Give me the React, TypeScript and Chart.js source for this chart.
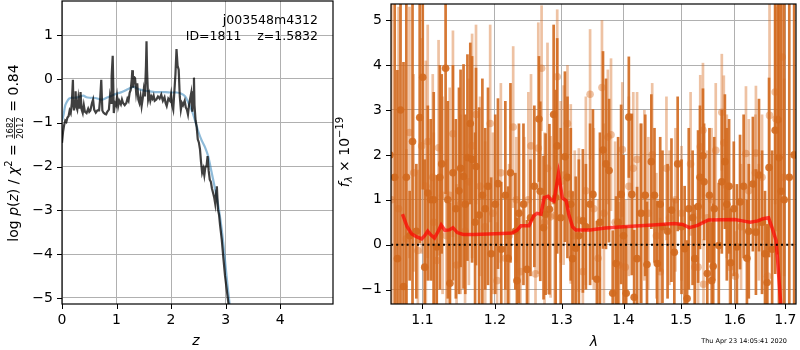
import React, { useEffect, useRef } from 'react';
import { Chart, registerables } from 'chart.js';
Chart.register(...registerables);

const FONT = "'DejaVu Sans', sans-serif";
const GRID = '#b0b0b0';
const fmt = (v: number, d = 0) => v.toFixed(d).replace('-', '\u2212');

// ---------------- Left panel: log p(z) / chi2 ----------------
const zTicks = [0, 1, 2, 3, 4];
const logpTicks = [-5, -4, -3, -2, -1, 0, 1];

const chiZ = [0.00, 0.02, 0.04, 0.06, 0.08, 0.10, 0.12, 0.14, 0.16, 0.18, 0.20, 0.21, 0.22, 0.24, 0.25, 0.26, 0.28, 0.30, 0.32, 0.34, 0.36, 0.38, 0.40, 0.42, 0.45, 0.48, 0.50, 0.52, 0.55, 0.57, 0.59, 0.62, 0.65, 0.68, 0.70, 0.72, 0.74, 0.76, 0.79, 0.81, 0.83, 0.86, 0.88, 0.90, 0.91, 0.93, 0.95, 0.97, 0.99, 1.01, 1.03, 1.05, 1.08, 1.10, 1.12, 1.15, 1.18, 1.20, 1.22, 1.24, 1.26, 1.28, 1.29, 1.30, 1.32, 1.34, 1.36, 1.38, 1.40, 1.42, 1.44, 1.46, 1.48, 1.50, 1.52, 1.54, 1.55, 1.56, 1.58, 1.60, 1.62, 1.64, 1.66, 1.68, 1.70, 1.73, 1.76, 1.79, 1.82, 1.85, 1.88, 1.90, 1.92, 1.95, 1.98, 2.00, 2.02, 2.04, 2.06, 2.08, 2.10, 2.12, 2.14, 2.16, 2.18, 2.20, 2.22, 2.25, 2.27, 2.29, 2.31, 2.33, 2.35, 2.37, 2.39, 2.41, 2.42, 2.43, 2.45, 2.47, 2.49, 2.51, 2.53, 2.55, 2.57, 2.59, 2.61, 2.63, 2.65, 2.67, 2.69, 2.71, 2.73, 2.75, 2.77, 2.79, 2.81, 2.83, 2.84, 2.86, 2.88, 2.90, 2.93, 2.96, 2.99, 3.02, 3.05, 3.08];
const chiVal = [-1.46, -1.2, -1.05, -0.95, -0.98, -0.88, -0.85, -0.72, -0.78, -0.55, -0.02, -0.6, -0.72, -0.5, -0.28, -0.62, -0.7, -0.45, -0.68, -0.3, -0.7, -0.78, -0.6, -0.75, -0.78, -0.68, -0.75, -0.72, -0.55, -0.47, -0.7, -0.77, -0.72, -0.72, -0.45, -0.02, -0.72, -0.77, -0.8, -0.81, -0.75, -0.7, -0.4, -0.55, 0.06, 0.53, -0.78, -0.55, -0.6, -0.4, -0.62, -0.5, -0.58, -0.47, -0.55, -0.6, -0.55, -0.45, -0.5, -0.32, -0.25, 0.0, 0.2, -0.2, 0.05, 0.02, -0.3, -0.1, -0.47, -0.55, -0.4, -0.62, -0.45, -0.24, -0.4, 0.3, 0.86, 0.2, -0.47, -0.35, -0.5, -0.4, -0.45, -0.38, -0.5, -0.47, -0.4, -0.45, -0.36, -0.5, -0.42, -0.55, -0.62, -0.45, -0.5, -0.35, -0.6, -0.7, -0.3, 0.1, 0.68, 0.3, 0.21, -0.4, -0.7, -0.55, -0.6, -0.5, -0.65, -0.7, -0.81, -0.6, -0.45, -0.32, -0.75, -0.3, 0.03, -0.6, -0.95, -1.1, -1.38, -1.45, -1.6, -1.9, -2.14, -2.05, -2.2, -2.0, -2.0, -1.76, -2.1, -2.3, -2.35, -2.5, -2.6, -2.7, -2.85, -2.55, -2.45, -2.98, -3.1, -3.35, -3.67, -4.1, -4.5, -4.8, -5.1, -5.4];

const pzZ = [0.00, 0.03, 0.06, 0.09, 0.13, 0.17, 0.22, 0.28, 0.34, 0.39, 0.45, 0.51, 0.57, 0.63, 0.70, 0.75, 0.80, 0.88, 0.95, 1.02, 1.10, 1.18, 1.25, 1.32, 1.38, 1.45, 1.52, 1.60, 1.70, 1.80, 1.90, 2.00, 2.10, 2.18, 2.26, 2.32, 2.38, 2.44, 2.50, 2.56, 2.62, 2.68, 2.73, 2.78, 2.83, 2.88, 2.93, 2.97, 3.01, 3.05, 3.09];
const pzVal = [-0.95, -0.81, -0.6, -0.52, -0.45, -0.43, -0.43, -0.42, -0.4, -0.38, -0.42, -0.43, -0.43, -0.44, -0.47, -0.47, -0.44, -0.4, -0.36, -0.33, -0.3, -0.25, -0.21, -0.18, -0.22, -0.25, -0.27, -0.28, -0.3, -0.3, -0.3, -0.31, -0.31, -0.33, -0.4, -0.55, -0.72, -0.95, -1.2, -1.4, -1.55, -1.76, -2.05, -2.35, -2.65, -3.0, -3.45, -3.9, -4.4, -4.88, -5.3];

// ---------------- Right panel: spectrum ----------------
const lamTicks = [1.1, 1.2, 1.3, 1.4, 1.5, 1.6, 1.7];
const fluxTicks = [-1, 0, 1, 2, 3, 4, 5];

const darkWave = [1.058, 1.064, 1.0675, 1.0715, 1.0753, 1.079, 1.0833, 1.087, 1.092, 1.0964, 1.1004, 1.103, 1.1071, 1.111, 1.115, 1.119, 1.1232, 1.1257, 1.131, 1.134, 1.1369, 1.141, 1.145, 1.1493, 1.1515, 1.1556, 1.158, 1.161, 1.165, 1.1675, 1.1717, 1.173, 1.1774, 1.182, 1.186, 1.190, 1.1945, 1.2004, 1.2043, 1.209, 1.215, 1.219, 1.2225, 1.2297, 1.232, 1.235, 1.2417, 1.247, 1.2522, 1.258, 1.265, 1.267, 1.272, 1.2751, 1.281, 1.2875, 1.2906, 1.293, 1.2984, 1.305, 1.309, 1.3142, 1.317, 1.3221, 1.327, 1.3334, 1.3382, 1.345, 1.3496, 1.356, 1.361, 1.366, 1.3709, 1.376, 1.382, 1.3876, 1.391, 1.396, 1.400, 1.4045, 1.409, 1.414, 1.418, 1.423, 1.4301, 1.437, 1.440, 1.4475, 1.453, 1.458, 1.463, 1.467, 1.476, 1.4829, 1.488, 1.494, 1.5009, 1.5065, 1.511, 1.514, 1.521, 1.525, 1.531, 1.5345, 1.540, 1.542, 1.548, 1.552, 1.5563, 1.559, 1.561, 1.5695, 1.5752, 1.581, 1.5847, 1.589, 1.592, 1.598, 1.604, 1.610, 1.617, 1.6234, 1.627, 1.635, 1.641, 1.647, 1.6531, 1.659, 1.6631, 1.667, 1.6732, 1.6793, 1.685, 1.687, 1.6915, 1.6976, 1.708, 1.718];
const darkFlux = [2.0, 1.5, -0.31, 3.0, -0.93, 1.5, 0.2, 2.3, 0.3, 2.83, 3.73, -0.5, 1.15, 1.0, 1.0, -0.05, 1.5, 1.8, 3.93, 1.0, -0.86, 1.6, 0.8, 1.2, 1.7, 1.52, 0.9, 1.94, 2.7, 1.9, 0.5, 1.74, 0.66, 1.1, 0.8, 1.3, -0.2, 0.9, 1.36, -0.1, 1.1, -0.3, 1.6, 0.3, -0.8, 0.7, 0.9, -0.55, 0.6, 1.3, 2.8, 1.19, 0.38, 0.68, 0.79, 2.9, 1.05, 2.2, 0.6, 1.96, 1.5, 0.9, -0.31, -0.08, 0.2, 0.53, 0.4, 0.9, 1.12, -0.77, 0.5, 2.11, 1.8, 1.65, -1.08, -0.42, 0.5, 1.12, 0.2, -1.08, 2.84, 1.12, -1.17, -0.31, 0.7, 1.1, -0.44, 1.85, 1.1, -0.42, 0.9, 0.4, 0.3, 0.77, -0.17, 1.8, 0.4, -0.09, -1.2, 0.8, 0.6, -0.31, 0.85, 1.5, 1.98, 1.4, -0.64, 1.1, -0.8, -0.48, 0.8, -0.02, 1.4, 1.85, 0.9, 1.3, -0.4, 0.8, -0.05, 0.95, 1.3, -0.3, 0.3, 1.35, 0.28, 1.55, 0.5, -0.2, -0.84, 1.72, -0.1, 2.55, 2.78, 1.94, 1.19, 1.0, 1.5, 2.0];
const darkErr = [5.0, 4.5, 4.2, 4.5, 5.0, 4.0, 1.0, 4.0, 1.5, 2.8, 2.5, 2.4, 1.95, 1.8, 2.4, 1.6, 2.5, 2.0, 2.8, 2.2, 1.8, 2.4, 2.0, 2.3, 2.2, 2.5, 2.0, 2.3, 1.8, 2.3, 2.0, 2.2, 2.4, 2.6, 1.8, 2.2, 1.7, 2.0, 1.9, 1.5, 2.1, 1.6, 2.0, 1.3, 1.4, 2.0, 1.8, 1.1, 1.3, 1.8, 1.4, 2.0, 1.6, 1.8, 1.9, 2.0, 2.4, 2.4, 2.0, 1.9, 1.8, 1.7, 1.5, 1.6, 1.7, 1.6, 1.4, 1.8, 1.9, 1.3, 2.0, 2.2, 1.9, 1.6, 1.4, 1.5, 1.9, 2.0, 1.8, 1.5, 1.35, 1.8, 1.5, 1.6, 2.0, 1.8, 1.4, 1.5, 1.5, 1.4, 1.5, 1.7, 1.5, 1.6, 1.2, 1.5, 1.5, 1.4, 1.3, 1.8, 1.5, 1.2, 1.7, 1.6, 1.5, 1.3, 1.2, 1.5, 1.3, 1.4, 1.6, 1.4, 1.6, 1.5, 1.7, 1.5, 1.2, 1.5, 1.4, 1.5, 1.6, 1.3, 1.5, 1.5, 1.4, 1.7, 1.6, 1.4, 1.3, 2.0, 2.2, 3.2, 3.0, 3.8, 4.5, 5.0, 6.0, 6.0];

const lightWave = [1.0599, 1.069, 1.079, 1.083, 1.0885, 1.094, 1.099, 1.1045, 1.107, 1.1137, 1.115, 1.119, 1.1215, 1.1269, 1.132, 1.1366, 1.141, 1.146, 1.1515, 1.1577, 1.163, 1.1675, 1.173, 1.1787, 1.186, 1.1931, 1.197, 1.203, 1.2085, 1.215, 1.2205, 1.2265, 1.231, 1.2372, 1.243, 1.249, 1.253, 1.2598, 1.264, 1.269, 1.2735, 1.278, 1.2828, 1.289, 1.293, 1.2984, 1.303, 1.309, 1.3142, 1.3205, 1.327, 1.3334, 1.3382, 1.345, 1.351, 1.358, 1.3643, 1.3675, 1.374, 1.3792, 1.386, 1.3925, 1.398, 1.403, 1.409, 1.4165, 1.423, 1.4285, 1.4355, 1.4423, 1.449, 1.4563, 1.463, 1.474, 1.4795, 1.490, 1.5009, 1.5173, 1.525, 1.531, 1.535, 1.540, 1.541, 1.548, 1.556, 1.5638, 1.5752, 1.579, 1.5847, 1.5905, 1.601, 1.612, 1.6215, 1.627, 1.64, 1.641, 1.6467, 1.6531, 1.6641, 1.668, 1.6793, 1.681, 1.6935, 1.6976];
const lightFlux = [1.0, 0.8, 0.13, 2.5, 1.6, -0.13, 2.2, 1.3, 2.3, 1.5, 0.5, -0.35, 2.16, 1.1, 0.2, 1.1, 2.47, -0.45, 0.9, 0.3, 1.4, 2.2, 2.9, 1.3, 0.4, 2.7, 0.7, -0.8, 1.6, -0.3, 0.2, 2.62, 1.0, -0.6, 0.9, 1.0, 2.2, -0.65, 2.15, 3.93, 0.5, 1.7, 0.62, 0.65, 3.74, 1.4, 1.55, 2.7, 1.13, 0.2, 0.55, -0.6, 1.2, 3.35, 0.8, -0.3, 3.5, 0.7, 2.4, 2.45, 0.5, -0.45, 2.12, -0.5, 1.3, 1.7, 1.9, 0.7, 1.1, 0.7, 2.0, 0.2, -0.6, 1.7, 0.6, 1.0, 0.7, 1.8, -0.5, -0.5, 2.18, 2.55, -0.88, 0.6, 1.0, 2.1, 2.95, 2.27, 1.3, -0.5, -0.7, 0.4, 2.03, 1.2, 1.6, 2.04, 0.5, 1.5, -0.7, 2.88, 3.4, 2.8, 4.18, 1.5];
const lightErr = [5.0, 4.5, 2.0, 2.8, 2.2, 1.8, 2.4, 2.8, 2.6, 2.3, 2.0, 1.8, 2.4, 2.2, 1.7, 2.4, 2.3, 1.8, 2.0, 1.6, 2.3, 2.5, 2.0, 2.0, 1.9, 2.2, 1.8, 1.3, 2.0, 1.4, 1.6, 1.8, 1.4, 1.4, 1.5, 2.4, 1.6, 1.3, 2.8, 1.4, 2.0, 2.8, 1.8, 2.3, 1.5, 1.8, 2.0, 1.3, 2.0, 1.9, 1.6, 1.6, 2.1, 1.45, 1.8, 1.3, 1.5, 2.0, 1.5, 1.7, 1.8, 1.4, 1.5, 1.5, 2.0, 1.7, 1.5, 2.0, 1.9, 1.7, 1.6, 1.4, 1.2, 1.6, 1.5, 1.6, 1.5, 1.6, 1.2, 1.3, 1.6, 1.5, 1.0, 1.5, 1.6, 1.5, 1.3, 1.5, 1.6, 1.1, 1.0, 1.4, 1.5, 1.6, 1.3, 1.5, 1.3, 1.4, 1.1, 2.5, 2.5, 2.5, 3.0, 2.2];

const modelWave = [1.074, 1.080, 1.086, 1.092, 1.099, 1.103, 1.107, 1.111, 1.116, 1.121, 1.125, 1.130, 1.136, 1.141, 1.147, 1.155, 1.17, 1.19, 1.21, 1.225, 1.232, 1.238, 1.25, 1.257, 1.262, 1.268, 1.273, 1.279, 1.284, 1.288, 1.295, 1.301, 1.307, 1.311, 1.317, 1.322, 1.345, 1.37, 1.4, 1.45, 1.488, 1.503, 1.515, 1.53, 1.55, 1.6, 1.62, 1.63, 1.645, 1.655, 1.666, 1.673, 1.677, 1.681, 1.684, 1.69, 1.695];
const modelFlux = [0.68, 0.40, 0.24, 0.18, 0.13, 0.2, 0.3, 0.22, 0.15, 0.3, 0.44, 0.32, 0.33, 0.38, 0.27, 0.23, 0.23, 0.24, 0.25, 0.26, 0.32, 0.42, 0.42, 0.64, 0.7, 0.68, 1.05, 1.08, 1.0, 0.97, 1.59, 1.04, 0.98, 0.68, 0.4, 0.33, 0.33, 0.37, 0.4, 0.44, 0.47, 0.45, 0.38, 0.43, 0.55, 0.56, 0.52, 0.5, 0.53, 0.58, 0.6, 0.38, 0.24, 0.1, -0.3, -1.24, -2.5];

const objName = 'j003548m4312';
const objInfo = 'ID=1811    z=1.5832';
const stamp = 'Thu Apr 23 14:05:41 2020';

// ---------------- helpers ----------------
type Piece = { t: string; f: string; dy?: number } | { num: string; den: string; f: string };

function drawRich(ctx: CanvasRenderingContext2D, pieces: Piece[], cx: number, cy: number, angle: number) {
  ctx.save();
  ctx.translate(cx, cy);
  ctx.rotate(angle);
  ctx.fillStyle = '#000';
  ctx.textBaseline = 'alphabetic';
  let total = 0;
  const widths = pieces.map((p) => {
    ctx.font = p.f;
    const w = 'num' in p
      ? Math.max(ctx.measureText(p.num).width, ctx.measureText(p.den).width) + 2
      : ctx.measureText(p.t).width;
    total += w;
    return w;
  });
  let x = -total / 2;
  pieces.forEach((p, i) => {
    ctx.font = p.f;
    const w = widths[i];
    if ('num' in p) {
      ctx.textAlign = 'center';
      ctx.fillText(p.num, x + w / 2, -5);
      ctx.fillText(p.den, x + w / 2, 5);
      ctx.fillRect(x + 1, -4, w - 2, 0.8);
      ctx.textAlign = 'left';
    } else {
      ctx.textAlign = 'left';
      ctx.fillText(p.t, x, p.dy || 0);
    }
    x += w;
  });
  ctx.restore();
}

const fixPad = (s: any) => {
  s.paddingTop = 0;
  s.paddingBottom = 0;
  s.paddingLeft = 0;
  s.paddingRight = 0;
};

const frameTicks = {
  id: 'frameTicks',
  afterDraw(chart: any) {
    const { ctx, chartArea: a, scales } = chart;
    ctx.save();
    ctx.strokeStyle = '#000';
    ctx.lineWidth = 1;
    ctx.beginPath();
    scales.x.ticks.forEach((t: any) => {
      const px = Math.round(scales.x.getPixelForValue(t.value)) + 0.5;
      ctx.moveTo(px, a.bottom);
      ctx.lineTo(px, a.bottom + 5);
    });
    scales.y.ticks.forEach((t: any) => {
      const py = Math.round(scales.y.getPixelForValue(t.value)) + 0.5;
      ctx.moveTo(a.left, py);
      ctx.lineTo(a.left - 5, py);
    });
    ctx.stroke();
    ctx.lineWidth = 1.2;
    ctx.strokeRect(a.left, a.top, a.right - a.left, a.bottom - a.top);
    ctx.restore();
  },
};

const errorBars = {
  id: 'errorBars',
  beforeDatasetsDraw(chart: any) {
    const { ctx, chartArea: a, scales } = chart;
    const xs = scales.x, ys = scales.y;
    ctx.save();
    ctx.beginPath();
    ctx.rect(a.left, a.top, a.right - a.left, a.bottom - a.top);
    ctx.clip();
    chart.data.datasets.forEach((ds: any) => {
      if (!ds.err) return;
      ctx.strokeStyle = ds.barColor;
      ctx.lineWidth = 2.7;
      ds.data.forEach((p: any, i: number) => {
        const px = xs.getPixelForValue(p.x);
        ctx.beginPath();
        ctx.moveTo(px, ys.getPixelForValue(p.y - ds.err[i]));
        ctx.lineTo(px, ys.getPixelForValue(p.y + ds.err[i]));
        ctx.stroke();
      });
    });
    ctx.restore();
  },
  afterDatasetsDraw(chart: any) {
    const { ctx, chartArea: a, scales } = chart;
    const py = scales.y.getPixelForValue(0);
    ctx.save();
    ctx.strokeStyle = '#000';
    ctx.lineWidth = 2;
    ctx.setLineDash([2, 3.2]);
    ctx.beginPath();
    ctx.moveTo(a.left, py);
    ctx.lineTo(a.right, py);
    ctx.stroke();
    ctx.restore();
  },
};

const tickFont = { family: FONT, size: 14 };

function LeftPanel() {
  const ref = useRef<HTMLCanvasElement>(null);
  useEffect(() => {
    const textPlugin = {
      id: 'leftText',
      afterDraw(chart: any) {
        const ctx = chart.ctx as CanvasRenderingContext2D;
        ctx.save();
        ctx.fillStyle = '#000';
        ctx.font = `12.5px ${FONT}`;
        ctx.textAlign = 'right';
        ctx.textBaseline = 'alphabetic';
        ctx.fillText(objName, 318, 24);
        ctx.fillText(objInfo, 318, 40);
        ctx.font = `italic 14px ${FONT}`;
        ctx.textAlign = 'center';
        ctx.fillText('z', 196, 345);
        ctx.restore();
        const f = `14px ${FONT}`;
        const fi = `italic 14px ${FONT}`;
        drawRich(ctx, [
          { t: 'log ', f },
          { t: 'p', f: fi },
          { t: '(', f },
          { t: 'z', f: fi },
          { t: ') / ', f },
          { t: 'χ', f: fi },
          { t: '2', f: `10px ${FONT}`, dy: -6 },
          { t: ' = ', f },
          { num: '1682', den: '2012', f: `8.5px ${FONT}` },
          { t: ' = 0.84', f },
        ], 18, 153, -Math.PI / 2);
      },
    };
    const chart = new Chart(ref.current!, {
      type: 'line',
      data: {
        datasets: [
          {
            data: pzZ.map((x, i) => ({ x, y: pzVal[i] })),
            borderColor: 'rgba(31,119,180,0.5)',
            borderWidth: 2.2,
            pointRadius: 0,
            tension: 0.3,
            order: 1,
          },
          {
            data: chiZ.map((x, i) => ({ x, y: chiVal[i] })),
            borderColor: 'rgba(0,0,0,0.75)',
            borderWidth: 2.2,
            pointRadius: 0,
            order: 0,
          },
        ],
      },
      options: {
        animation: false,
        responsive: false,
        events: [],
        layout: { padding: { top: 1, right: 7, left: 0, bottom: 0 } },
        plugins: { legend: { display: false }, tooltip: { enabled: false } },
        scales: {
          x: {
            type: 'linear',
            min: 0,
            max: 4.97,
            afterBuildTicks: (s: any) => { s.ticks = zTicks.map((v) => ({ value: v })); },
            afterFit: (s: any) => { s.height = 46; fixPad(s); },
            grid: { color: GRID, lineWidth: 1, drawTicks: false },
            border: { display: false },
            ticks: { color: '#000', font: tickFont, padding: 8, maxRotation: 0, callback: (v: any) => fmt(Number(v)) },
          },
          y: {
            type: 'linear',
            min: -5.14,
            max: 1.78,
            afterBuildTicks: (s: any) => { s.ticks = logpTicks.map((v) => ({ value: v })); },
            afterFit: (s: any) => { s.width = 62; fixPad(s); },
            grid: { color: GRID, lineWidth: 1, drawTicks: false },
            border: { display: false },
            ticks: { color: '#000', font: tickFont, padding: 9, callback: (v: any) => fmt(Number(v)) },
          },
        },
      } as any,
      plugins: [frameTicks, textPlugin],
    });
    return () => chart.destroy();
  }, []);
  return <canvas ref={ref} width={340} height={350} style={{ position: 'absolute', left: 0, top: 0, width: 340, height: 350 }} />;
}

function RightPanel() {
  const ref = useRef<HTMLCanvasElement>(null);
  useEffect(() => {
    const textPlugin = {
      id: 'rightText',
      afterDraw(chart: any) {
        const ctx = chart.ctx as CanvasRenderingContext2D;
        ctx.save();
        ctx.fillStyle = '#000';
        ctx.font = `italic 14px ${FONT}`;
        ctx.textAlign = 'center';
        ctx.textBaseline = 'alphabetic';
        ctx.fillText('λ', 594 - 334, 346);
        ctx.font = `6.5px ${FONT}`;
        ctx.textAlign = 'right';
        ctx.fillText(stamp, 787 - 334, 343);
        ctx.restore();
        const f = `14px ${FONT}`;
        drawRich(ctx, [
          { t: 'f', f: `italic 14px ${FONT}` },
          { t: 'λ', f: `italic 10px ${FONT}`, dy: 3 },
          { t: ' × 10', f },
          { t: '\u221219', f: `10px ${FONT}`, dy: -6 },
        ], 349 - 334, 152, -Math.PI / 2);
      },
    };
    const dark = 'rgba(210,105,30,0.9)';
    const light = 'rgba(215,110,35,0.42)';
    const chart = new Chart(ref.current!, {
      type: 'scatter',
      data: {
        datasets: [
          {
            type: 'line',
            data: modelWave.map((x, i) => ({ x, y: modelFlux[i] })),
            borderColor: 'rgba(255,0,0,0.7)',
            borderWidth: 3.5,
            pointRadius: 0,
            order: 0,
          },
          {
            data: lightWave.map((x, i) => ({ x, y: lightFlux[i] })),
            err: lightErr,
            barColor: light,
            backgroundColor: light,
            borderWidth: 0,
            pointRadius: 3.8,
            order: 1,
          },
          {
            data: darkWave.map((x, i) => ({ x, y: darkFlux[i] })),
            err: darkErr,
            barColor: dark,
            backgroundColor: dark,
            borderWidth: 0,
            pointRadius: 3.8,
            order: 2,
          },
        ],
      } as any,
      options: {
        animation: false,
        responsive: false,
        events: [],
        layout: { padding: { top: 1, right: 1, left: 0, bottom: 0 } },
        plugins: { legend: { display: false }, tooltip: { enabled: false } },
        scales: {
          x: {
            type: 'logarithmic',
            min: 1.0593,
            max: 1.7218,
            afterBuildTicks: (s: any) => { s.ticks = lamTicks.map((v) => ({ value: v })); },
            afterFit: (s: any) => { s.height = 46; fixPad(s); },
            grid: { color: GRID, lineWidth: 1, drawTicks: false },
            border: { display: false },
            ticks: { color: '#000', font: tickFont, padding: 8, maxRotation: 0, autoSkip: false, callback: (v: any) => fmt(Number(v), 1) },
          },
          y: {
            type: 'linear',
            min: -1.32,
            max: 5.36,
            afterBuildTicks: (s: any) => { s.ticks = fluxTicks.map((v) => ({ value: v })); },
            afterFit: (s: any) => { s.width = 57; fixPad(s); },
            grid: { color: GRID, lineWidth: 1, drawTicks: false },
            border: { display: false },
            ticks: { color: '#000', font: tickFont, padding: 9, callback: (v: any) => fmt(Number(v)) },
          },
        },
      } as any,
      plugins: [errorBars, frameTicks, textPlugin],
    });
    return () => chart.destroy();
  }, []);
  return <canvas ref={ref} width={466} height={350} style={{ position: 'absolute', left: 334, top: 0, width: 466, height: 350 }} />;
}

export default function App() {
  return (
    <div style={{ position: 'fixed', left: 0, top: 0, width: 800, height: 350, background: '#fff', overflow: 'hidden' }}>
      <LeftPanel />
      <RightPanel />
    </div>
  );
}
